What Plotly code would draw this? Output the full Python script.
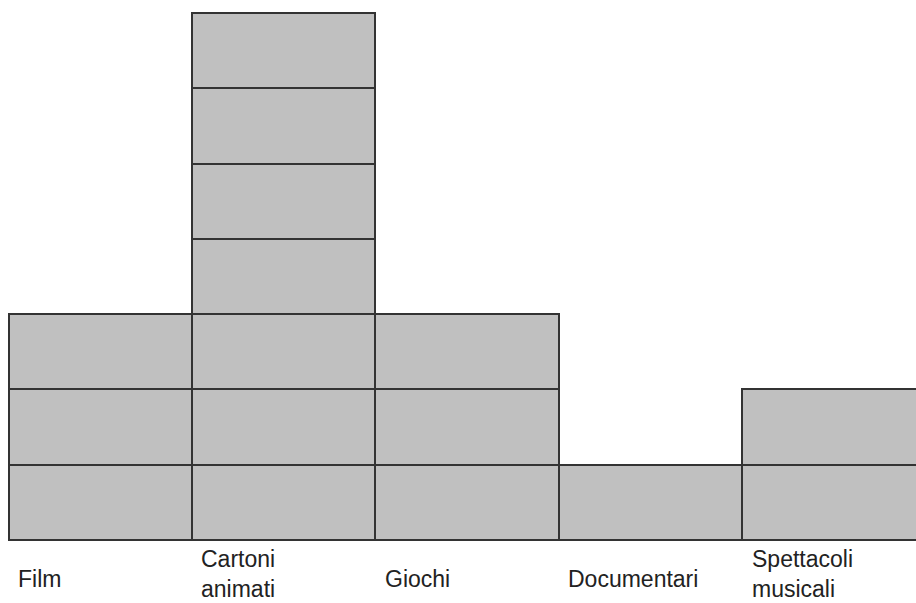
import plotly.graph_objects as go

categories = ["Film", "Cartoni<br>animati", "Giochi", "Documentari", "Spettacoli<br>musicali"]
values = [3, 7, 3, 1, 2]

W, H = 916, 603
left_px, unit_w = 9.5, 183.4
bottom_px, top_px = 541, 14
unit_h = (bottom_px - top_px) / 7

fill = "#c0c0c0"
edge = "#333333"

fig = go.Figure()
n_levels = max(values)
for k in range(n_levels):
    ys = [1 if v > k else None for v in values]
    fig.add_trace(go.Bar(
        x=list(range(len(categories))), y=ys, width=1,
        marker=dict(color=fill, line=dict(color=edge, width=1.6)),
        hoverinfo="skip", showlegend=False,
    ))

x0 = -0.5 - left_px / unit_w
x1 = -0.5 + (W - left_px) / unit_w
y0 = -(H - bottom_px) / unit_h
y1 = 7 + top_px / unit_h

label_offset = 6.5 / unit_w
label_mid_px = {1: 579, 2: 574}
for i, lab in enumerate(categories):
    n_lines = lab.count("<br>") + 1
    fig.add_annotation(
        x=i - 0.5 + label_offset, xref="x", xanchor="left",
        y=1 - label_mid_px[n_lines] / H, yref="paper", yanchor="middle",
        text=lab, showarrow=False, align="left",
        font=dict(family="Liberation Sans, Arial, sans-serif", size=23, color="#222222"),
    )

fig.update_layout(
    width=W, height=H, margin=dict(l=0, r=0, t=0, b=0),
    paper_bgcolor="white", plot_bgcolor="white",
    barmode="stack", bargap=0,
    xaxis=dict(range=[x0, x1], visible=False, fixedrange=True),
    yaxis=dict(range=[y0, y1], visible=False, fixedrange=True),
)

fig.write_html(
    "out.html",
    config={"displayModeBar": False},
    post_script="document.body.style.margin='0';document.body.style.overflow='hidden';",
)
